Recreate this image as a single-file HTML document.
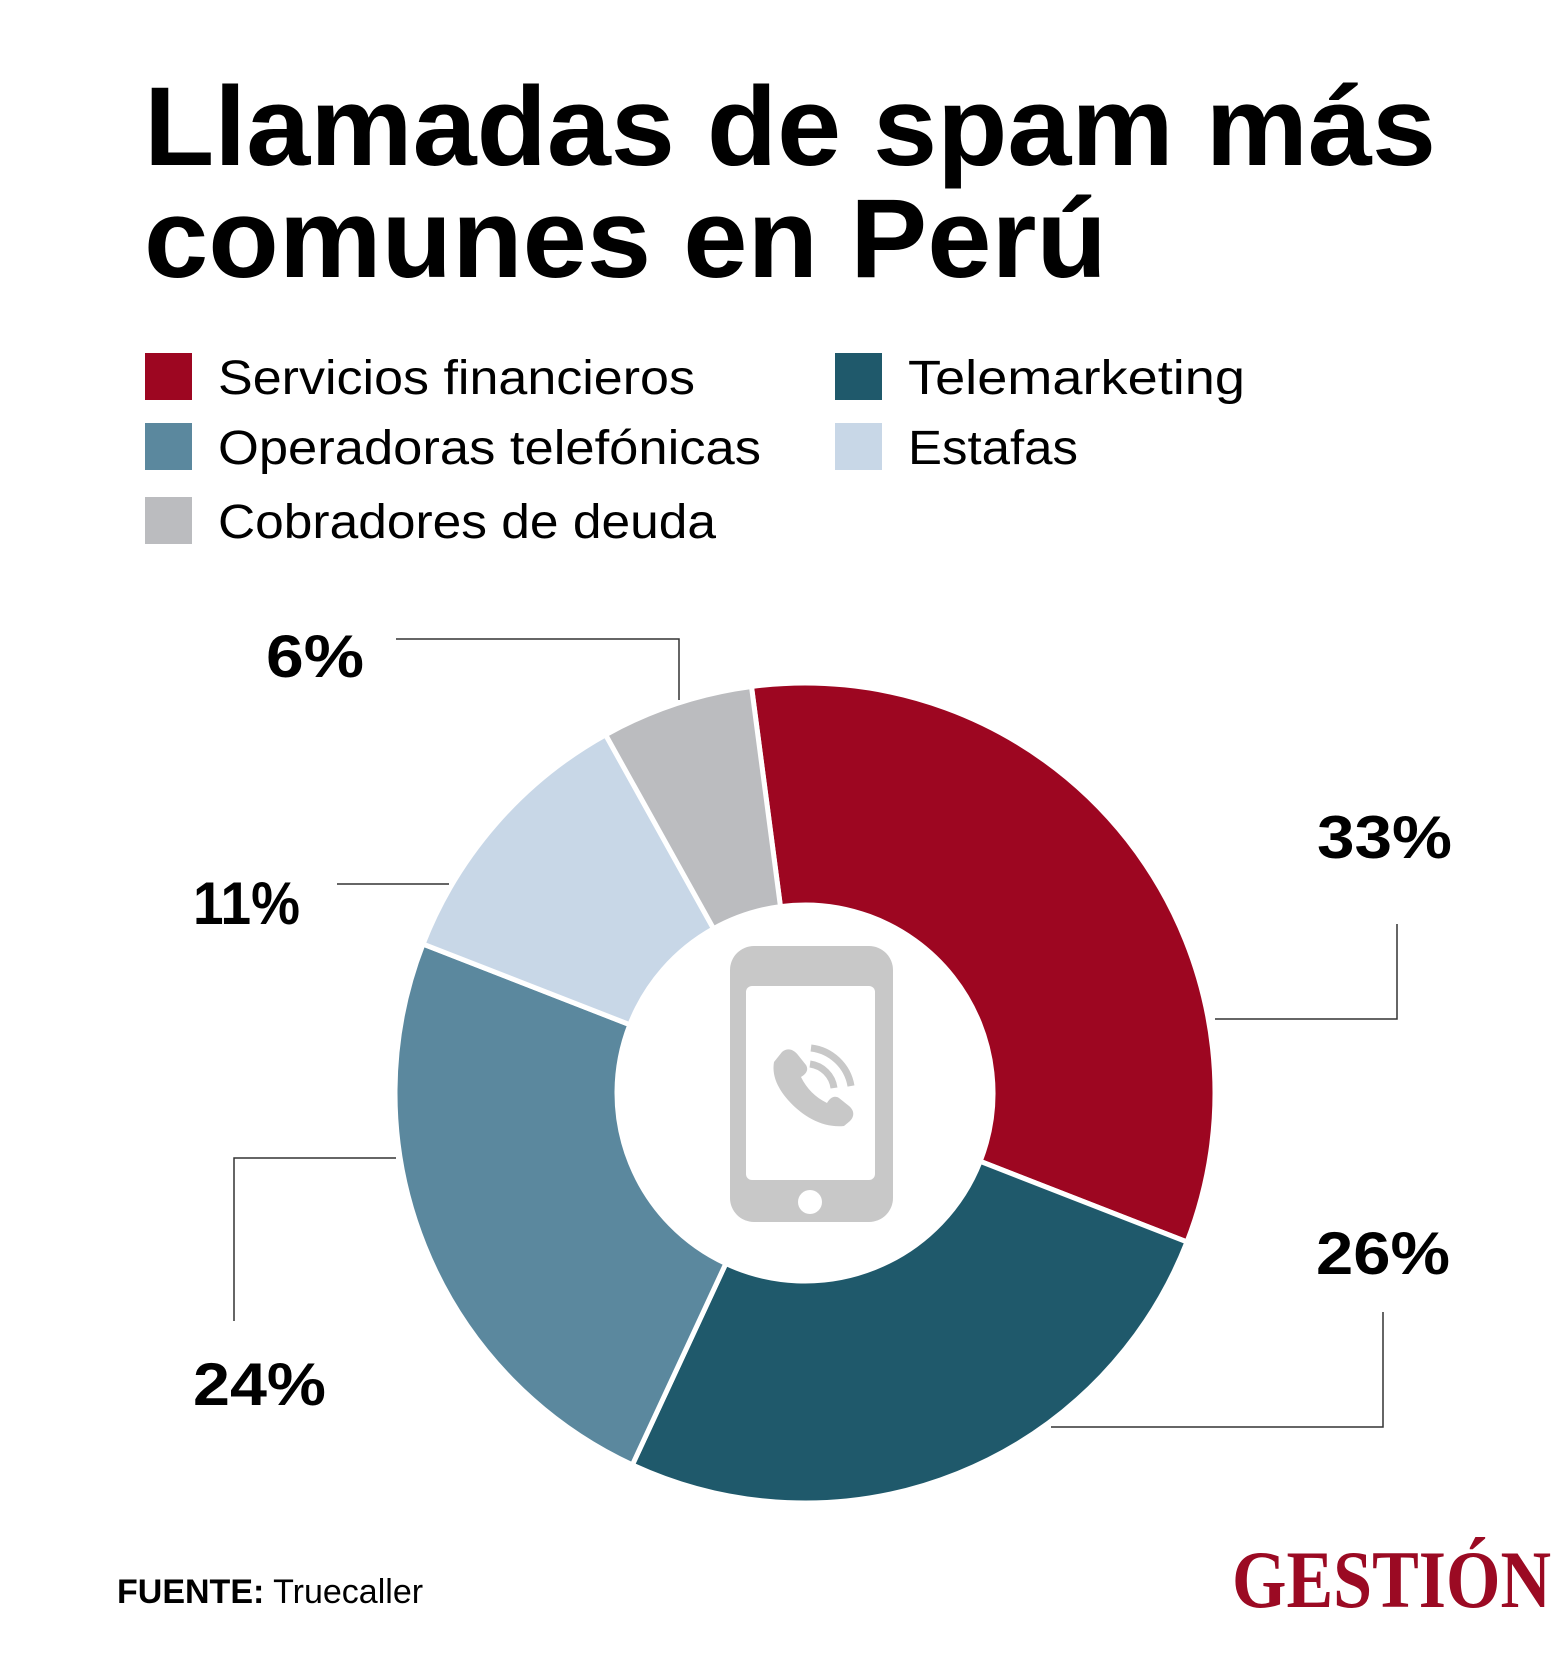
<!DOCTYPE html>
<html><head><meta charset="utf-8"><style>
html,body{margin:0;padding:0;background:#fff;}
svg{display:block;font-family:"Liberation Sans",sans-serif;}
</style></head><body>
<svg id="chart" width="1567" height="1665" viewBox="0 0 1567 1665">
<text x="144" y="165" font-size="112" font-weight="bold" textLength="1292" lengthAdjust="spacingAndGlyphs">Llamadas de spam más</text>
<text x="144" y="277" font-size="112" font-weight="bold" textLength="963" lengthAdjust="spacingAndGlyphs">comunes en Perú</text>
<g id="legend"></g>
<g id="donut"></g>
<g id="leaders" stroke="#333" stroke-width="1.5" fill="none">
<polyline points="396,639 679,639 679,700"/>
<polyline points="337,884 449,884"/>
<polyline points="396,1158 234,1158 234,1321"/>
<polyline points="1215,1019 1397,1019 1397,924"/>
<polyline points="1051,1427 1383,1427 1383,1312"/>
</g>
<g id="labels"></g>
<g fill="#c8c8c8">
<rect x="730" y="946" width="163" height="276" rx="24"/>
<rect x="746" y="986" width="129" height="194" rx="6" fill="#fff"/>
<circle cx="810" cy="1202" r="12" fill="#fff"/>
<path d="M782,1052 c6,-5 12,-2 16,3 l8,10 c3,5 0,9 -5,12 c6,12 14,20 26,26 c3,-5 7,-8 12,-5 l10,8 c5,4 6,10 1,15 l-6,5 c-20,2 -40,-8 -56,-26 c-12,-14 -16,-26 -14,-38 z"/>
<path d="M811,1048 a46,46 0 0 1 40,38" fill="none" stroke="#c8c8c8" stroke-width="7"/>
<path d="M810,1064 a28,28 0 0 1 24,24" fill="none" stroke="#c8c8c8" stroke-width="7"/>
</g>
<text x="117" y="1603" font-size="34"><tspan font-weight="bold">FUENTE:</tspan> Truecaller</text>
<text x="1232" y="1607" font-size="82" font-weight="bold" fill="#9b0a23" font-family="Liberation Serif, serif" textLength="319" lengthAdjust="spacingAndGlyphs">GESTIÓN</text>
</svg>
<script>
const categories = ["Servicios financieros","Telemarketing","Operadoras telefónicas","Estafas","Cobradores de deuda"];
const values = [33,26,24,11,6];
const valueLabels = ["33%","26%","24%","11%","6%"];
const colors = ["#9d0621","#1f596b","#5b889e","#c8d7e7","#bbbcbf"];
const NS="http://www.w3.org/2000/svg";
const cx=805, cy=1093, R=410, r=188, startDeg=-7.5;
const total=values.reduce((a,b)=>a+b,0);
function angleScale(v){return (startDeg + v/total*360)*Math.PI/180;}
function pt(a,rad){return [cx+rad*Math.sin(a), cy-rad*Math.cos(a)];}
const donut=document.getElementById('donut');
let cum=0;
values.forEach((v,i)=>{
  const a0=angleScale(cum), a1=angleScale(cum+v); cum+=v;
  const large=(a1-a0)>Math.PI?1:0;
  const p0=pt(a0,R),p1=pt(a1,R),q1=pt(a1,r),q0=pt(a0,r);
  const p=document.createElementNS(NS,'path');
  p.setAttribute('d',`M${p0} A${R},${R} 0 ${large} 1 ${p1} L${q1} A${r},${r} 0 ${large} 0 ${q0} Z`);
  p.setAttribute('fill',colors[i]);
  p.setAttribute('stroke','#fff');
  p.setAttribute('stroke-width','5');
  
  
  donut.appendChild(p);
});
const legend=document.getElementById('legend');
const legPos=[[145,353,218,394,477],[835,353,908,394,337],[145,423,218,464,543],[835,423,908,464,170],[145,497,218,538,498]];
categories.forEach((c,i)=>{
  const L=legPos[i];
  const s=document.createElementNS(NS,'rect');
  s.setAttribute('x',L[0]);s.setAttribute('y',L[1]);s.setAttribute('width',47);s.setAttribute('height',47);
  s.setAttribute('fill',colors[i]);
  
  
  legend.appendChild(s);
  const t=document.createElementNS(NS,'text');
  t.setAttribute('x',L[2]);t.setAttribute('y',L[3]);t.setAttribute('font-size','48');
  t.setAttribute('textLength',L[4]);t.setAttribute('lengthAdjust','spacingAndGlyphs');
  t.textContent=c;
  
  
  legend.appendChild(t);
});
const labels=document.getElementById('labels');
const labPos=[[1317,858,135],[1316,1274,134],[193,1405,133],[193,924,107],[266,677,98]];
valueLabels.forEach((lab,i)=>{
  const P=labPos[i];
  const t=document.createElementNS(NS,'text');
  t.setAttribute('x',P[0]);t.setAttribute('y',P[1]);t.setAttribute('font-size','60');t.setAttribute('font-weight','bold');
  t.setAttribute('textLength',P[2]);t.setAttribute('lengthAdjust','spacingAndGlyphs');
  t.textContent=lab;
  
  
  labels.appendChild(t);
});
</script>
</body></html>
